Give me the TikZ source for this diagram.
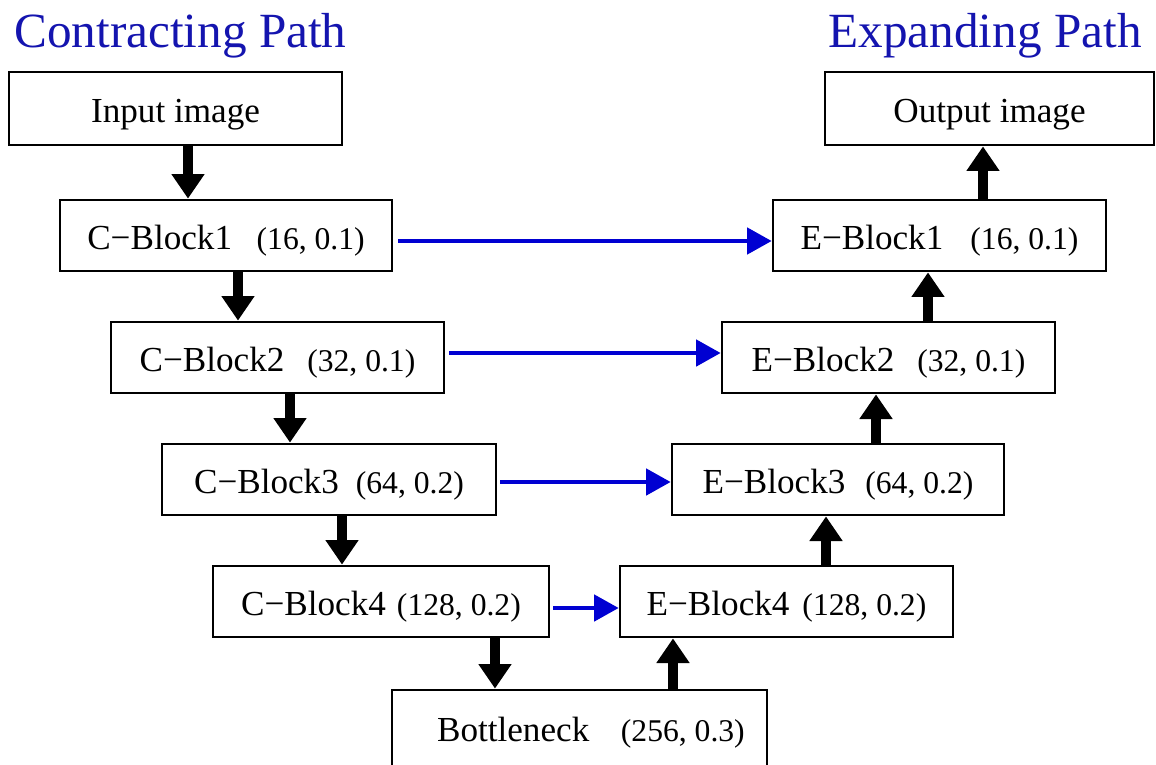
\documentclass[tikz,border=0pt]{standalone}
\usepackage{fontspec}
\setmainfont{Liberation Serif}
\usepackage{tikz}
\usetikzlibrary{arrows.meta}
\usepackage{xcolor}
\definecolor{titleblue}{RGB}{20,20,175}
\definecolor{skipblue}{RGB}{0,0,210}
\newcommand{\cfg}[2]{\hspace{#1}{\fontsize{18}{20}\selectfont #2}}

\begin{document}
\begin{tikzpicture}[x=0.02cm,y=-0.02cm,line width=1.6pt,
  block/.style={draw,rectangle,inner sep=0pt,minimum height=1.42cm,text height=16pt,text depth=0pt,font=\fontsize{20}{24}\selectfont},
  heading/.style={inner sep=0pt,text=titleblue,font=\fontsize{28}{32}\selectfont},
  mainarrow/.style={-{Triangle[width=18pt,length=14pt]},line width=5.7pt},
  skiparrow/.style={-{Triangle[width=15pt,length=14pt]},line width=2.2pt,skipblue}]
  \useasboundingbox (0,0) rectangle (1156,764);

  \node[heading,anchor=base west] (ctitle) at (13,47)   {Contracting Path};
  \node[heading,anchor=base east] (etitle) at (1143,47) {Expanding Path};

  % contracting side
  \node[block,minimum width=6.66cm,minimum height=1.46cm] (inp) at (175.5,108.5) {Input image};
  \node[block,minimum width=6.64cm] (c1) at (226,235.5)   {C−Block1\cfg{14pt}{(16, 0.1)}};
  \node[block,minimum width=6.66cm] (c2) at (277.5,357.5) {C−Block2\cfg{13pt}{(32, 0.1)}};
  \node[block,minimum width=6.68cm] (c3) at (329,479.5)   {C−Block3\cfg{9.7pt}{(64, 0.2)}};
  \node[block,minimum width=6.72cm] (c4) at (381,601.5)   {C−Block4\cfg{6.3pt}{(128, 0.2)}};
  \node[block,minimum width=7.5cm,minimum height=1.6cm,text height=13pt] (bn) at (579.5,730) {\hspace{13pt}Bottleneck\cfg{18pt}{(256, 0.3)}};

  % expanding side
  \node[block,minimum width=6.58cm,minimum height=1.46cm] (out) at (989.5,108.5) {Output image};
  \node[block,minimum width=6.66cm] (e1) at (939.5,235.5) {E−Block1\cfg{15.4pt}{(16, 0.1)}};
  \node[block,minimum width=6.66cm] (e2) at (888.5,357.5) {E−Block2\cfg{13pt}{(32, 0.1)}};
  \node[block,minimum width=6.64cm] (e3) at (838,479.5)   {E−Block3\cfg{11.4pt}{(64, 0.2)}};
  \node[block,minimum width=6.66cm] (e4) at (786.5,601.5) {E−Block4\cfg{7.4pt}{(128, 0.2)}};

  \foreach \a/\b/\s in {inp/c1/2.5mm,c1/c2/2.4mm,c2/c3/2.5mm,c3/c4/2.6mm,c4/bn/22.8mm}
    \draw[mainarrow] ([xshift=\s]\a.south) -- ([xshift=\s]\a.south |- \b.north);
  \foreach \a/\b/\s in {bn/e4/18.7mm,e4/e3/7.9mm,e3/e2/7.6mm,e2/e1/7.9mm,e1/out/8.7mm}
    \draw[mainarrow] ([xshift=\s]\a.north) -- ([xshift=\s]\a.north |- \b.south);

  % skip connections
  \draw[skiparrow] ([xshift=1mm,yshift=-1.1mm]c1.east) -- ([yshift=-1.1mm]e1.west);
  \draw[skiparrow] ([xshift=0.8mm,yshift=0.9mm]c2.east) -- ([yshift=0.9mm]e2.west);
  \draw[skiparrow] ([xshift=0.6mm,yshift=-0.5mm]c3.east) -- ([yshift=-0.5mm]e3.west);
  \draw[skiparrow] ([xshift=0.6mm,yshift=-1.3mm]c4.east) -- ([yshift=-1.3mm]e4.west);
\end{tikzpicture}
\end{document}
